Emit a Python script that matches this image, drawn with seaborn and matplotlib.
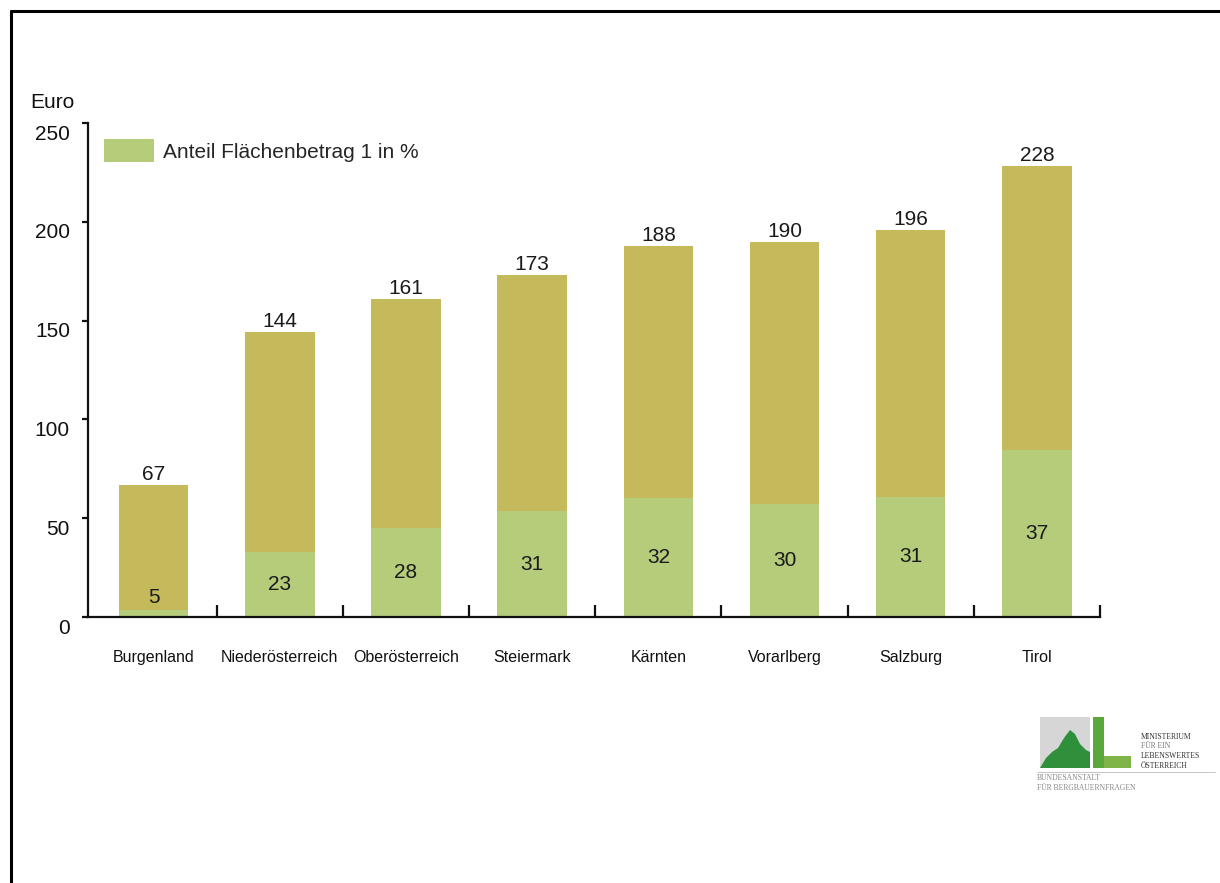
import numpy as np
import pandas as pd
import matplotlib
matplotlib.use("Agg")
import matplotlib.pyplot as plt
import matplotlib.transforms as mtransforms
from matplotlib.patches import Patch, Rectangle, Polygon
from matplotlib.lines import Line2D
import seaborn as sns


# ======================================================
# DATA
# ======================================================

regions = ["Burgenland", "Niederösterreich", "Oberösterreich", "Steiermark",
           "Kärnten", "Vorarlberg", "Salzburg", "Tirol"]
total_euro = [67, 144, 161, 173, 188, 190, 196, 228]
share_pct = [5, 23, 28, 31, 32, 30, 31, 37]

y_ticks = [0, 50, 100, 150, 200, 250]

OLIVE = "#c5ba5b"
GREEN = "#b5cc7b"


# ======================================================
# PLOT
# ======================================================

def main():

    df = pd.DataFrame({"region": regions, "total": total_euro, "pct": share_pct})
    # Euro amount of the Flächenbetrag 1 share (part of the total bar)
    df["share_euro"] = df["total"] * df["pct"] / 100

    sns.set_style("white")
    plt.rcParams["font.family"] = ["Liberation Sans", "DejaVu Sans"]

    fig = plt.figure(figsize=(12.2, 8.83), dpi=100)
    ax = fig.add_axes([88 / 1220, 266 / 883, 1012 / 1220, 494 / 883])

    sns.barplot(data=df, x="region", y="total", color=OLIVE, width=0.55,
                saturation=1, linewidth=0, edgecolor="none", ax=ax)
    sns.barplot(data=df, x="region", y="share_euro", color=GREEN, width=0.55,
                saturation=1, linewidth=0, edgecolor="none", ax=ax)

    ax.set_xlim(-0.52, 7.5)
    ax.set_ylim(0, 250)

    # value labels
    for i, row in df.iterrows():
        ax.text(i, row["total"] + 0.5, str(row["total"]), ha="center",
                va="bottom", fontsize=15, color="#1a1a1a")
        ax.text(i, max(row["share_euro"] / 2, 10), str(row["pct"]),
                ha="center", va="center", fontsize=15, color="#1a1a1a")

    # axes styling
    for side in ["top", "right"]:
        ax.spines[side].set_visible(False)
    for side in ["left", "bottom"]:
        ax.spines[side].set_linewidth(1.6)
        ax.spines[side].set_color("#111111")

    ax.set_yticks(y_ticks)
    ax.tick_params(axis="y", direction="out", length=4, width=1.6,
                   pad=9, labelsize=15, colors="#111111", left=True)
    shift = mtransforms.ScaledTranslation(0, -0.09, fig.dpi_scale_trans)
    for lbl in ax.get_yticklabels():
        lbl.set_transform(lbl.get_transform() + shift)

    ax.set_xticks(range(len(regions)))
    ax.set_xticklabels(regions)
    ax.tick_params(axis="x", which="major", length=0, pad=24, labelsize=11.5,
                   colors="#111111")
    ax.set_xticks(np.arange(0.5, len(regions), 1), minor=True)
    ax.tick_params(axis="x", which="minor", direction="in", length=9,
                   width=1.6, color="#111111", bottom=True)

    ax.set_xlabel("")
    ax.set_ylabel("")
    fig.text(30 / 1220, 1 - 102 / 883, "Euro", fontsize=15, va="center",
             ha="left", color="#111111")

    # legend
    ax.legend(handles=[Patch(facecolor=GREEN, edgecolor="none",
                             label="Anteil Flächenbetrag 1 in %")],
              loc="upper left", bbox_to_anchor=(104 / 1220, 1 - 139 / 883),
              bbox_transform=fig.transFigure, frameon=False, fontsize=15,
              handlelength=2.4, handleheight=1.35, handletextpad=0.45,
              borderpad=0, borderaxespad=0)

    # frame lines of the slide
    fig.add_artist(Line2D([11 / 1220, 1], [1 - 11 / 883, 1 - 11 / 883],
                          transform=fig.transFigure, color="black", lw=2.2))
    fig.add_artist(Line2D([11 / 1220, 11 / 1220], [0, 1 - 11 / 883],
                          transform=fig.transFigure, color="black", lw=2.2))

    # logo (approximate)
    def px(x, y):
        return (x / 1220, 1 - y / 883)

    fig.add_artist(Rectangle(px(1040, 768), 50 / 1220, 51 / 883,
                             transform=fig.transFigure, color="#d6d6d6", lw=0))
    fig.add_artist(Polygon([px(1040, 768), px(1046, 758), px(1052, 752),
                            px(1058, 748), px(1064, 738), px(1070, 730),
                            px(1075, 734), px(1080, 744), px(1086, 750),
                            px(1090, 752), px(1090, 768)],
                           transform=fig.transFigure, color="#2f8f3a", lw=0))
    fig.add_artist(Rectangle(px(1093, 768), 11 / 1220, 51 / 883,
                             transform=fig.transFigure, color="#5aa83c", lw=0))
    fig.add_artist(Rectangle(px(1104, 768), 27 / 1220, 12 / 883,
                             transform=fig.transFigure, color="#7fb548", lw=0))
    for k, word in enumerate(["MINISTERIUM", "FÜR EIN", "LEBENSWERTES",
                              "ÖSTERREICH"]):
        fig.text(1141 / 1220, 1 - (737 + 9.5 * k) / 883, word,
                 fontsize=5.5, family="Liberation Serif", va="center",
                 color="#333333" if k != 1 else "#777777")
    fig.add_artist(Line2D([1037 / 1220, 1215 / 1220], [1 - 772 / 883] * 2,
                          transform=fig.transFigure, color="#bbbbbb", lw=0.6))
    fig.text(1037 / 1220, 1 - 778 / 883, "BUNDESANSTALT", fontsize=5.5,
             family="Liberation Serif", va="center", color="#888888")
    fig.text(1037 / 1220, 1 - 788 / 883, "FÜR BERGBAUERNFRAGEN", fontsize=5.5,
             family="Liberation Serif", va="center", color="#888888")

    fig.savefig("out.png", dpi=100, facecolor="white")


if __name__ == "__main__":
    main()
